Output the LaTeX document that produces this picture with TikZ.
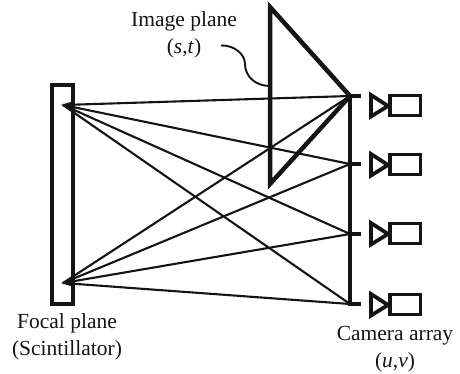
\documentclass[tikz,border=0pt]{standalone}
\usepackage{fontspec}
\setmainfont{Liberation Serif}
\tikzset{
  ray/.style={line width=2.1pt,black!92},
  thick frame/.style={draw=black!92,line width=3.6pt,line join=miter,fill=none},
  camera frame/.style={draw=black!92,line width=3.8pt,line join=miter},
  label text/.style={font=\fontsize{21.5}{27.5}\selectfont,align=center,inner sep=0pt,text=black!92},
}
\newcommand{\cameraat}[2]{%
  \coordinate (tick#1) at (350,#2);
  \coordinate (tickend#1) at (361,#2);
  \draw[line width=4pt,black!92] (tick#1) -- (tickend#1);
}
\newcommand{\camerabody}[2]{%
  \draw[camera frame] (371,#2-1) -- (388,#2+10) -- (371,#2+20.5) -- cycle;
  \draw[camera frame] (390,#2-0.5) rectangle (420.5,#2+19.5);
}
\begin{document}
\begin{tikzpicture}[x=1pt,y=-1pt]
\useasboundingbox (0,0) rectangle (460,374);
\coordinate (F1) at (63,105);
\coordinate (F2) at (63,283);
\coordinate (C1) at (350,96);
\coordinate (C2) at (350,164);
\coordinate (C3) at (350,234);
\coordinate (C4) at (350,304);
\coordinate (T1) at (270,7);
\coordinate (T2) at (270,184);
\coordinate (CT) at (350,96);
\coordinate (CB) at (350,306);
\foreach \f in {F1,F2}{
  \foreach \c in {C1,C2,C3,C4}{
    \draw[ray] (\f) -- (\c);
  }
}
\fill[black!92] (61,105) -- (74,101) -- (74,110) -- cycle;
\fill[black!92] (61,283) -- (74,279) -- (74,287) -- cycle;
\draw[thick frame] (52,85) rectangle (73,304);
\draw[line width=4.5pt,black!92,line join=miter] (T1) -- (T2) -- (CT) -- cycle;
\draw[line width=4pt,black!92] (CT) -- (CB);
\cameraat{1}{96}
\cameraat{2}{164}
\cameraat{3}{234}
\cameraat{4}{304}
\camerabody{1}{96}
\camerabody{2}{155}
\camerabody{3}{224}
\camerabody{4}{295}
\node[label text] (img) at (184,35) {Image plane\\(\textit{s},\textit{t})};
\node[label text] (foc) at (67,337) {Focal plane\\(Scintillator)};
\node[label text] (cam) at (395,349) {Camera array\\(\textit{u},\textit{v})};
\coordinate (L1) at (221,45.5);
\coordinate (L2) at (270,86);
\draw[line width=1.9pt,black!92] (L1) .. controls (234,45) and (245,54) .. (245,64) .. controls (245,76) and (255,86) .. (L2);
\end{tikzpicture}
\end{document}
